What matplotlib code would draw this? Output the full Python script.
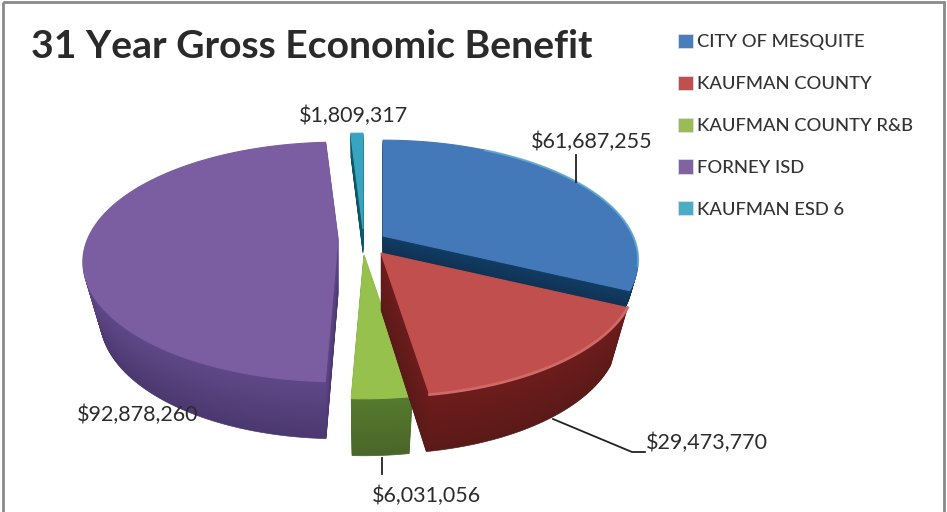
import numpy as np
import matplotlib
matplotlib.use("Agg")
import matplotlib.pyplot as plt
from matplotlib.patches import Patch, Rectangle
from matplotlib.colors import to_rgb

plt.rcParams['font.family'] = ['Lato', 'DejaVu Sans']

title = "31 Year Gross Economic Benefit"
names = ["CITY OF MESQUITE", "KAUFMAN COUNTY", "KAUFMAN COUNTY R&B", "FORNEY ISD", "KAUFMAN ESD 6"]
values = [61687255, 29473770, 6031056, 92878260, 1809317]

face_cols = ["#4379b9", "#c14f4d", "#95c14c", "#7b5ea2", "#38a5c0"]
legend_cols = ["#4a7ebb", "#c0504d", "#9bbb59", "#8064a2", "#4bacc6"]
wall_top = ["#123d66", "#6e1c1c", "#557a2e", "#5f4888", "#11606f"]
wall_bot = ["#0f3050", "#5a1a18", "#4a6628", "#4c3870", "#0e5060"]

# where each slice got pulled to (pixels)
centers = [(383, 236), (381, 253), (364, 255), (338, 238), (363, 229)]
depths = [20, 57, 57, 57, 24]
draw_order = [4, 3, 0, 2, 1]

RX = 250
RY = 115
PERSP = 0.2
WALL_SHRINK = 0.07


def project(ang, cx, cy):
    # ang is clockwise from 12 o'clock, simple perspective so the front looks bigger
    x = np.sin(ang)
    y = -np.cos(ang)
    d = 1 - PERSP * y
    return cx + RX * x / d, cy + RY * y / d


def wedge_xy(a0, a1, cx, cy):
    ang = np.linspace(a0, a1, 120)
    x, y = project(ang, cx, cy)
    return np.r_[cx, x], np.r_[cy, y]


fig = plt.figure(figsize=(9.47, 5.12), dpi=100)
ax = fig.add_axes([0, 0, 1, 1])
ax.set_xlim(0, 947)
ax.set_ylim(512, 0)
ax.axis("off")

ax.add_patch(Rectangle((3, 2), 941, 530, fill=False, ec="#8a8a8a", lw=2))

fracs = np.array(values) / sum(values) * 2 * np.pi
ends = np.cumsum(fracs)
starts = ends - fracs

for i in draw_order:
    cx, cy = centers[i]
    x, y = wedge_xy(starts[i], ends[i], cx, cy)
    c0 = np.array(to_rgb(wall_top[i]))
    c1 = np.array(to_rgb(wall_bot[i]))
    for k in range(depths[i], 0, -1):
        t = k / 59
        xk = cx + (x - cx) * (1 - WALL_SHRINK * t)
        ax.fill(xk, y + k, color=c0 + (c1 - c0) * k / depths[i], lw=0.5)
    ax.fill(x, y, color=face_cols[i], lw=0.8)

# lighter rim on the front of the red and green tops, cyan glint on blue
ang = np.linspace(starts[1], ends[1], 80)
ax.plot(*project(ang, *centers[1]), color="#d06a66", lw=2)
ang = np.linspace(starts[0] + 0.5, ends[0] - 0.2, 80)
ax.plot(*project(ang, *centers[0]), color="#6db6d8", lw=1.5, alpha=0.7)

# leader lines
ax.plot([576, 576], [155, 182], color="#222222", lw=1.3)
ax.plot([553, 632, 645], [419, 452, 452], color="#222222", lw=1.3)
ax.plot([382, 382], [458, 474], color="#222222", lw=1.3)

label_pos = [(592, 142), (707, 443), (426, 496), (138, 415), (354, 116)]
for v, (lx, ly) in zip(values, label_pos):
    ax.text(lx, ly, f"${v:,}", ha="center", va="center", fontsize=15.5, color="#2c2c2c")

ax.text(31, 47, title, ha="left", va="center", fontsize=28.2, fontweight="bold", color="#2a2a2a")

handles = [Patch(facecolor=c, edgecolor="#dfe6ee", lw=0.5) for c in legend_cols]
ax.legend(handles, names, loc="upper left", bbox_to_anchor=(678 / 947, 1 - 34 / 512), frameon=False,
          labelspacing=1.38, handlelength=0.82, handleheight=0.82, handletextpad=0.2,
          borderaxespad=0, borderpad=0, labelcolor="#333333", prop={"weight": "medium", "size": 13.2})

fig.savefig("out.png", dpi=100)
